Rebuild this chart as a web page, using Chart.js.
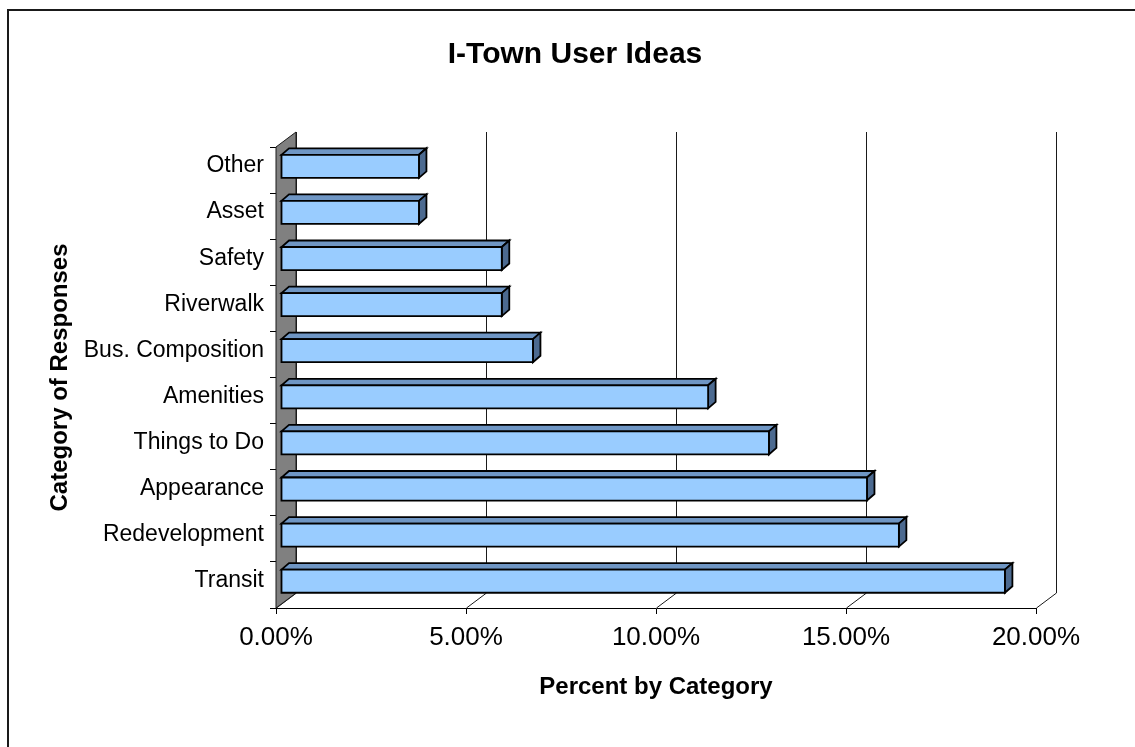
<!DOCTYPE html>
<html>
<head>
<meta charset="utf-8">
<script src="https://cdn.jsdelivr.net/npm/chart.js@4"></script>
<style>
    html, body { margin: 0; padding: 0; background: #fff; overflow: hidden; width: 1135px; height: 747px; }
    #frame { position: absolute; left: 7px; top: 9px; width: 1200px; height: 800px; border: 2px solid #1a1a1a; }
    #chart { position: absolute; left: 8px; top: 10px; }
</style>
</head>
<body>
<div id="frame"></div>
<canvas id="chart" width="1134" height="737"></canvas>
<script>
const categories = ['Other', 'Asset', 'Safety', 'Riverwalk', 'Bus. Composition', 'Amenities', 'Things to Do', 'Appearance', 'Redevelopment', 'Transit'];
const percents = [3.63, 3.63, 5.81, 5.81, 6.63, 11.24, 12.84, 15.42, 16.26, 19.05];
const xTicks = [0, 5, 10, 15, 20];
const chartTitle = 'I-Town User Ideas';

const FONT = 'Arial, "Liberation Sans", sans-serif';
const DEPTH = { x: 20, y: -15 };      // floor -> back wall
const BAR_FRONT = { x: 5, y: -3.75 }; // bar front face inside the depth
const BAR_DEPTH = { x: 7.5, y: -6.5 };

// 3D look: side wall, back wall gridlines, floor lines and extruded bars
const fake3d = {
    id: 'fake3d',
    beforeDatasetsDraw(chart) {
        const { ctx, chartArea: a, scales: { x } } = chart;
        ctx.save();
        ctx.strokeStyle = '#1a1a1a';
        ctx.lineWidth = 1;
        xTicks.forEach(v => {
            const px = Math.round(x.getPixelForValue(v)) + 0.5;
            ctx.beginPath();
            ctx.moveTo(px + DEPTH.x, a.top + DEPTH.y);
            ctx.lineTo(px + DEPTH.x, a.bottom + DEPTH.y);
            ctx.lineTo(px, a.bottom);
            ctx.stroke();
        });
        // side wall
        ctx.beginPath();
        ctx.moveTo(a.left, a.top);
        ctx.lineTo(a.left + DEPTH.x, a.top + DEPTH.y);
        ctx.lineTo(a.left + DEPTH.x, a.bottom + DEPTH.y);
        ctx.lineTo(a.left, a.bottom);
        ctx.closePath();
        ctx.fillStyle = '#808080';
        ctx.fill();
        ctx.stroke();
        ctx.restore();
    },
    afterDatasetsDraw(chart) {
        const { ctx } = chart;
        const meta = chart.getDatasetMeta(0);
        ctx.save();
        ctx.lineWidth = 1.8;
        ctx.strokeStyle = '#000';
        meta.data.forEach(el => {
            const h = el.height;
            const x0 = el.base + BAR_FRONT.x, x1 = el.x + BAR_FRONT.x;
            const y0 = el.y + BAR_FRONT.y - h / 2, y1 = el.y + BAR_FRONT.y + h / 2;
            const dx = BAR_DEPTH.x, dy = BAR_DEPTH.y;
            // top
            ctx.beginPath();
            ctx.moveTo(x0, y0); ctx.lineTo(x1, y0); ctx.lineTo(x1 + dx, y0 + dy); ctx.lineTo(x0 + dx, y0 + dy);
            ctx.closePath();
            ctx.fillStyle = '#6f96c4';
            ctx.fill(); ctx.stroke();
            // side
            ctx.beginPath();
            ctx.moveTo(x1, y0); ctx.lineTo(x1 + dx, y0 + dy); ctx.lineTo(x1 + dx, y1 + dy); ctx.lineTo(x1, y1);
            ctx.closePath();
            ctx.fillStyle = '#4c6a90';
            ctx.fill(); ctx.stroke();
            // front
            ctx.beginPath();
            ctx.rect(x0, y0, x1 - x0, y1 - y0);
            ctx.fillStyle = '#99ccff';
            ctx.fill(); ctx.stroke();
        });
        ctx.restore();
    },
    afterDraw(chart) {
        // chart title centred on the whole chart box, not on the plot
        const { ctx, width } = chart;
        ctx.save();
        ctx.fillStyle = '#000';
        ctx.font = 'bold 30px ' + FONT;
        ctx.textAlign = 'center';
        ctx.textBaseline = 'middle';
        ctx.fillText(chartTitle, width / 2, 45);
        ctx.restore();
    }
};

new Chart(document.getElementById('chart'), {
    type: 'bar',
    data: {
        labels: categories,
        datasets: [{
            data: percents,
            backgroundColor: 'rgba(0,0,0,0)',
            borderWidth: 0,
            categoryPercentage: 1,
            barPercentage: 0.5
        }]
    },
    options: {
        indexAxis: 'y',
        responsive: false,
        animation: false,
        devicePixelRatio: 1,
        layout: { padding: { left: 0, right: 106, top: 137, bottom: 0 } },
        plugins: {
            legend: { display: false },
            tooltip: { enabled: false },
            title: { display: false }
        },
        scales: {
            x: {
                min: 0, max: 20,
                afterFit(s) { s.height = 139; },
                afterBuildTicks(s) { s.ticks = xTicks.map(v => ({ value: v })); },
                grid: { display: true, drawOnChartArea: false, drawTicks: true, tickLength: 6, color: '#000' },
                border: { display: true, color: '#000', width: 1 },
                ticks: {
                    color: '#000', padding: 8,
                    font: { family: FONT, size: 26 },
                    callback: v => v.toFixed(2) + '%'
                },
                title: {
                    display: true, text: 'Percent by Category', color: '#000',
                    font: { family: FONT, size: 24, weight: 'bold' },
                    padding: { top: 0, bottom: 45 }
                }
            },
            y: {
                afterFit(s) { s.width = 268; },
                grid: { display: true, drawOnChartArea: false, drawTicks: true, tickLength: 6, color: '#000', offset: true },
                border: { display: true, color: '#000', width: 1 },
                ticks: {
                    color: '#000', padding: 6, labelOffset: -4,
                    font: { family: FONT, size: 23 }
                },
                title: {
                    display: true, text: 'Category of Responses', color: '#000',
                    font: { family: FONT, size: 24, weight: 'bold' },
                    padding: { top: 38, bottom: 0 }
                }
            }
        }
    },
    plugins: [fake3d]
});
</script>
</body>
</html>
